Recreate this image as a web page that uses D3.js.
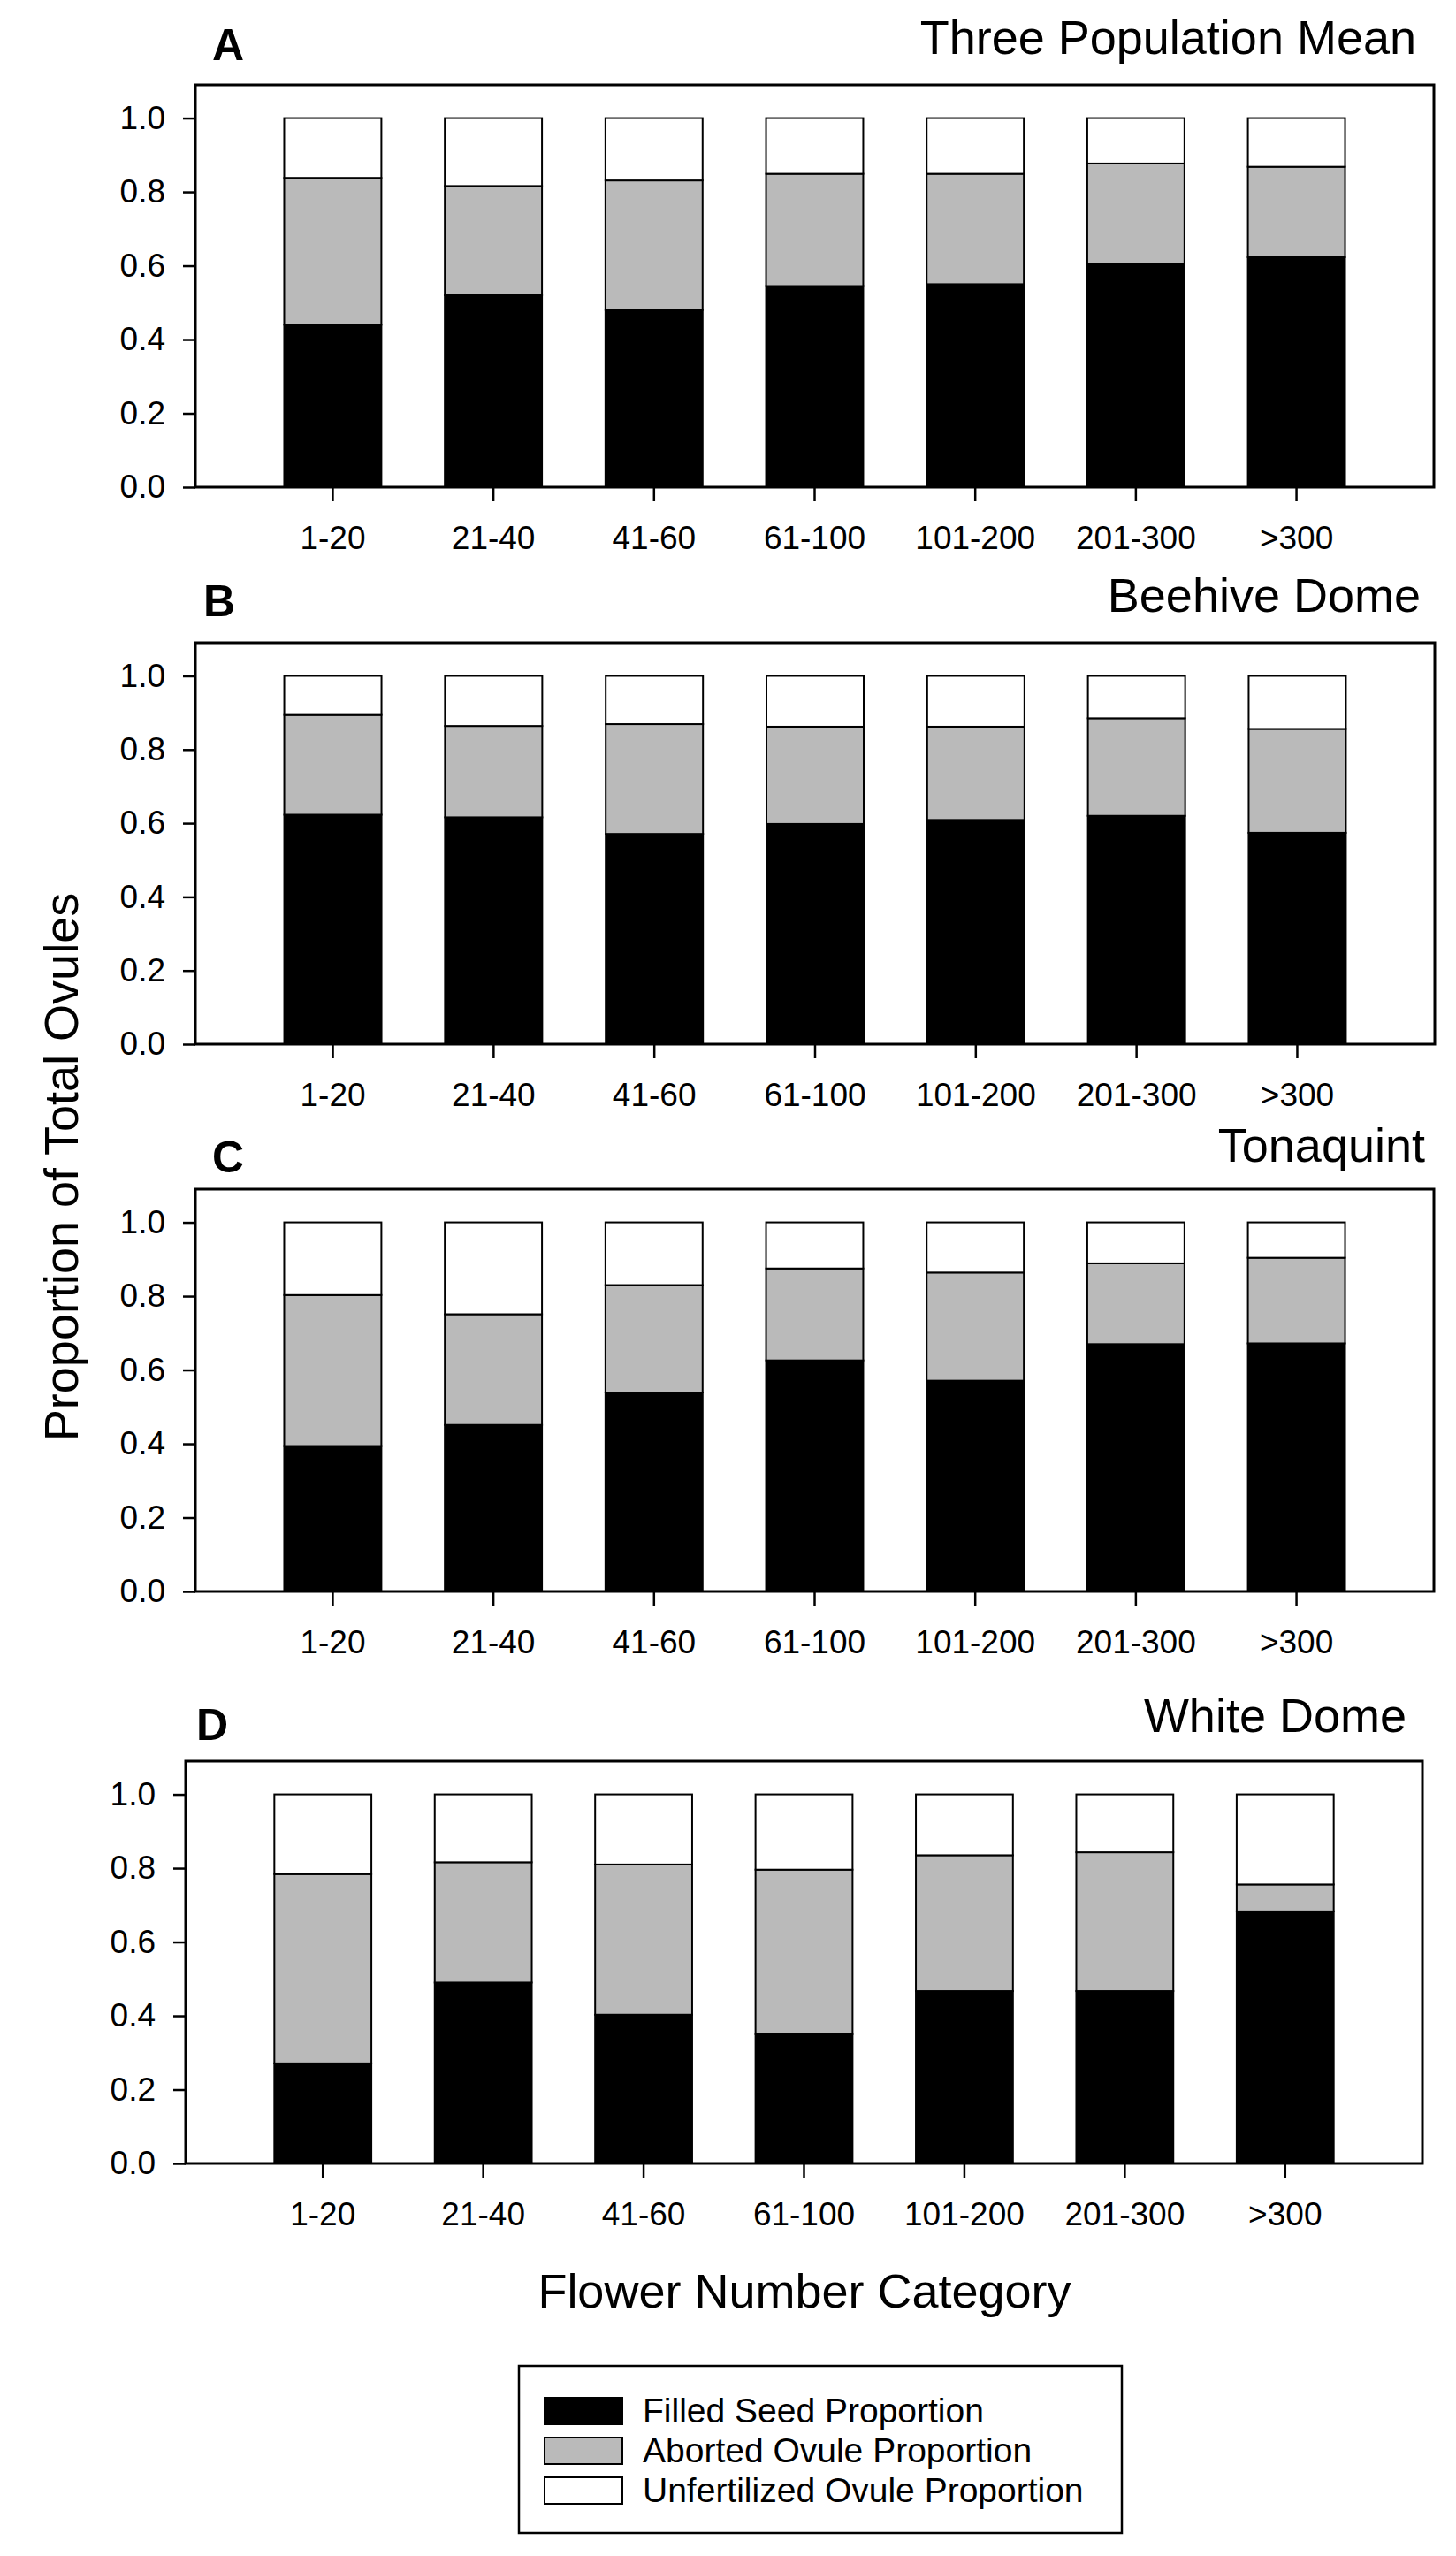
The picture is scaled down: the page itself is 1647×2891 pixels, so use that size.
<!DOCTYPE html>
<html>
<head>
<meta charset="utf-8">
<script src="https://cdn.jsdelivr.net/npm/d3@7"></script>
<style>
  body { margin: 0; background: #fff; }
  text { font-family: "Liberation Sans", Arial, sans-serif; fill: #000; }
</style>
</head>
<body>
<svg id="svg" width="1647" height="2891"></svg>
<script>
// flower number classes on the x axis
const categories = ["1-20", "21-40", "41-60", "61-100", "101-200", "201-300", ">300"];
const yTicks = [0, 0.2, 0.4, 0.6, 0.8, 1.0];

const panelLetters = ["A", "B", "C", "D"];
const panelTitles = ["Three Population Mean", "Beehive Dome", "Tonaquint", "White Dome"];

// proportions, one array per panel and per series
const filledA  = [0.440, 0.520, 0.480, 0.545, 0.550, 0.605, 0.623];
const abortedA = [0.398, 0.296, 0.351, 0.304, 0.299, 0.272, 0.245];
const unfertA  = [0.162, 0.184, 0.169, 0.151, 0.151, 0.123, 0.132];

const filledB  = [0.623, 0.616, 0.571, 0.598, 0.609, 0.620, 0.574];
const abortedB = [0.271, 0.248, 0.298, 0.264, 0.253, 0.265, 0.282];
const unfertB  = [0.106, 0.136, 0.131, 0.138, 0.138, 0.115, 0.144];

const filledC  = [0.394, 0.451, 0.539, 0.626, 0.571, 0.670, 0.672];
const abortedC = [0.409, 0.300, 0.291, 0.249, 0.293, 0.219, 0.232];
const unfertC  = [0.197, 0.249, 0.170, 0.125, 0.136, 0.111, 0.096];

const filledD  = [0.271, 0.490, 0.403, 0.350, 0.467, 0.467, 0.683];
const abortedD = [0.513, 0.326, 0.407, 0.446, 0.368, 0.376, 0.073];
const unfertD  = [0.216, 0.184, 0.190, 0.204, 0.165, 0.157, 0.244];

const seriesKeys = ["filled", "aborted", "unfert"];
const seriesNames = ["Filled Seed Proportion", "Aborted Ovule Proportion", "Unfertilized Ovule Proportion"];
const seriesColors = {filled: "#000000", aborted: "#bababa", unfert: "#ffffff"};

const panelSeries = [
    [filledA, abortedA, unfertA],
    [filledB, abortedB, unfertB],
    [filledC, abortedC, unfertC],
    [filledD, abortedD, unfertD]
];

// frame geometry of each panel, in page pixels
const layout = [
    {top: 96,   bottom: 551,  left: 221, right: 1622, letterX: 240, letterY: 68,   titleX: 1602, titleY: 61},
    {top: 727,  bottom: 1181, left: 221, right: 1623, letterX: 230, letterY: 697,  titleX: 1607, titleY: 692},
    {top: 1345, bottom: 1800, left: 221, right: 1622, letterX: 240, letterY: 1326, titleX: 1612, titleY: 1314},
    {top: 1992, bottom: 2447, left: 210, right: 1609, letterX: 222, letterY: 1968, titleX: 1591, titleY: 1959}
];

const svg = d3.select("svg#svg");
svg.append("rect").attr("width", 1647).attr("height", 2891).attr("fill", "#fff");

const stack = d3.stack().keys(seriesKeys);

function drawPanel(i) {
    const L = layout[i];
    const rows = categories.map((c, j) => ({
        cat: c,
        filled: panelSeries[i][0][j],
        aborted: panelSeries[i][1][j],
        unfert: panelSeries[i][2][j]
    }));

    const x = d3.scaleBand().domain(categories).range([L.left, L.right])
        .paddingInner(0.395).paddingOuter(0.553);
    const y = d3.scaleLinear().domain([0, 1.09]).range([L.bottom, L.top]);

    const g = svg.append("g").attr("class", "panel" + panelLetters[i]);

    // bars
    g.selectAll("g.series").data(stack(rows)).enter()
        .append("g").attr("class", "series")
        .attr("fill", d => seriesColors[d.key])
        .selectAll("rect").data(d => d).enter()
        .append("rect")
        .attr("x", d => x(d.data.cat))
        .attr("width", x.bandwidth())
        .attr("y", d => y(d[1]))
        .attr("height", d => y(d[0]) - y(d[1]))
        .attr("stroke", "#000").attr("stroke-width", 2);

    // y axis
    const yAxis = g.append("g").attr("transform", `translate(${L.left},0)`)
        .call(d3.axisLeft(y).tickValues(yTicks).tickFormat(d3.format(".1f"))
            .tickSize(14).tickSizeOuter(0).tickPadding(20));
    yAxis.select(".domain").remove();
    yAxis.selectAll("line").attr("stroke", "#000").attr("stroke-width", 2.5);
    yAxis.selectAll("text").attr("font-size", 37)
        .attr("font-family", '"Liberation Sans", Arial, sans-serif');

    // x axis
    const xAxis = g.append("g").attr("transform", `translate(0,${L.bottom})`)
        .call(d3.axisBottom(x).tickSize(16).tickSizeOuter(0).tickPadding(28));
    xAxis.select(".domain").remove();
    xAxis.selectAll("line").attr("stroke", "#000").attr("stroke-width", 2.5);
    xAxis.selectAll("text").attr("font-size", 37)
        .attr("font-family", '"Liberation Sans", Arial, sans-serif');

    // frame
    g.append("rect")
        .attr("x", L.left).attr("y", L.top)
        .attr("width", L.right - L.left).attr("height", L.bottom - L.top)
        .attr("fill", "none").attr("stroke", "#000").attr("stroke-width", 3);

    g.append("text").attr("x", L.letterX).attr("y", L.letterY)
        .attr("font-size", 50).attr("font-weight", "bold")
        .text(panelLetters[i]);

    g.append("text").attr("x", L.titleX).attr("y", L.titleY)
        .attr("text-anchor", "end").attr("font-size", 54)
        .text(panelTitles[i]);
}

for (let i = 0; i < layout.length; i++) {
    drawPanel(i);
}

// axis titles
svg.append("text")
    .attr("transform", "translate(88,1320) rotate(-90)")
    .attr("text-anchor", "middle").attr("font-size", 54)
    .text("Proportion of Total Ovules");

svg.append("text")
    .attr("x", 910).attr("y", 2610)
    .attr("text-anchor", "middle").attr("font-size", 54)
    .text("Flower Number Category");

// legend
const legend = svg.append("g").attr("class", "legend");
legend.append("rect")
    .attr("x", 587).attr("y", 2676).attr("width", 682).attr("height", 189)
    .attr("fill", "#fff").attr("stroke", "#000").attr("stroke-width", 2.5);

const item = legend.selectAll("g.item").data(seriesKeys).enter()
    .append("g").attr("class", "item")
    .attr("transform", (d, i) => `translate(616,${2712 + i * 45})`);
item.append("rect")
    .attr("width", 88).attr("height", 30)
    .attr("fill", d => seriesColors[d])
    .attr("stroke", "#000").attr("stroke-width", 2);
item.append("text")
    .attr("x", 111).attr("y", 28)
    .attr("font-size", 39)
    .text((d, i) => seriesNames[i]);
</script>
</body>
</html>
